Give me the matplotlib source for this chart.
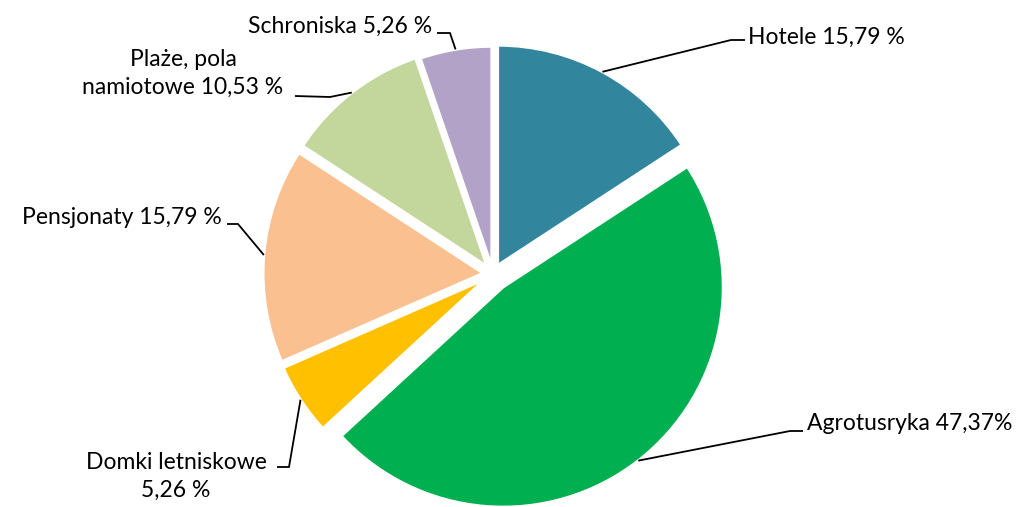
import numpy as np
import matplotlib.pyplot as plt

# dane
categories = ["Hotele", "Agrotusryka", "Domki letniskowe", "Pensjonaty",
              "Plaże, pola namiotowe", "Schroniska"]
values = [15.79, 47.37, 5.26, 15.79, 10.53, 5.26]
labels = ["Hotele 15,79 %", "Agrotusryka 47,37%", "Domki letniskowe\n5,26 %",
          "Pensjonaty 15,79 %", "Plaże, pola\nnamiotowe 10,53 %", "Schroniska 5,26 %"]
colors = ["#31859C", "#00B050", "#FFC000", "#FAC090", "#C3D69B", "#B3A2C7"]
explode = [0.045, 0.075, 0.045, 0.045, 0.045, 0.035]

W, H = 1024, 507
R = 220


def py(y):
    # pixel y (od góry) -> y w danych
    return H - y


# pozycje etykiet: (x tekstu, y tekstu, ha, łokieć linii, koniec linii)
label_pos = [
    (748, 37, "left", (731, 40), (745, 40)),
    (807, 423, "left", (790, 431), (803, 431)),
    (176, 476, "center", (289, 467), (277, 467)),
    (222, 218, "right", (238, 224), (227, 224)),
    (183, 73, "center", (330, 97), (295, 96)),
    (432, 26, "right", (450, 33), (437, 33)),
]

fig = plt.figure(figsize=(10.24, 5.07), dpi=100)
ax = fig.add_axes([0, 0, 1, 1])

wedges, _ = ax.pie(values, colors=colors, explode=[e * R for e in explode],
                   startangle=90, counterclock=False, radius=R,
                   center=(493, py(274)),
                   wedgeprops=dict(edgecolor="white", linewidth=2))

for w, lab, (tx, ty, ha, elbow, end) in zip(wedges, labels, label_pos):
    th = np.deg2rad((w.theta1 + w.theta2) / 2)
    cx, cy = w.center
    ax_, ay_ = cx + w.r * np.cos(th), cy + w.r * np.sin(th)
    ax.plot([ax_, elbow[0], end[0]], [ay_, py(elbow[1]), py(end[1])],
            color="black", lw=1.3, solid_capstyle="butt")
    ax.text(tx, py(ty), lab, ha=ha, va="center", fontsize=16.5,
            family="Lato", linespacing=1.4, multialignment="center")

ax.set_xlim(0, W)
ax.set_ylim(0, H)
ax.set_aspect("equal")
ax.axis("off")

plt.savefig("out.png", dpi=100)
